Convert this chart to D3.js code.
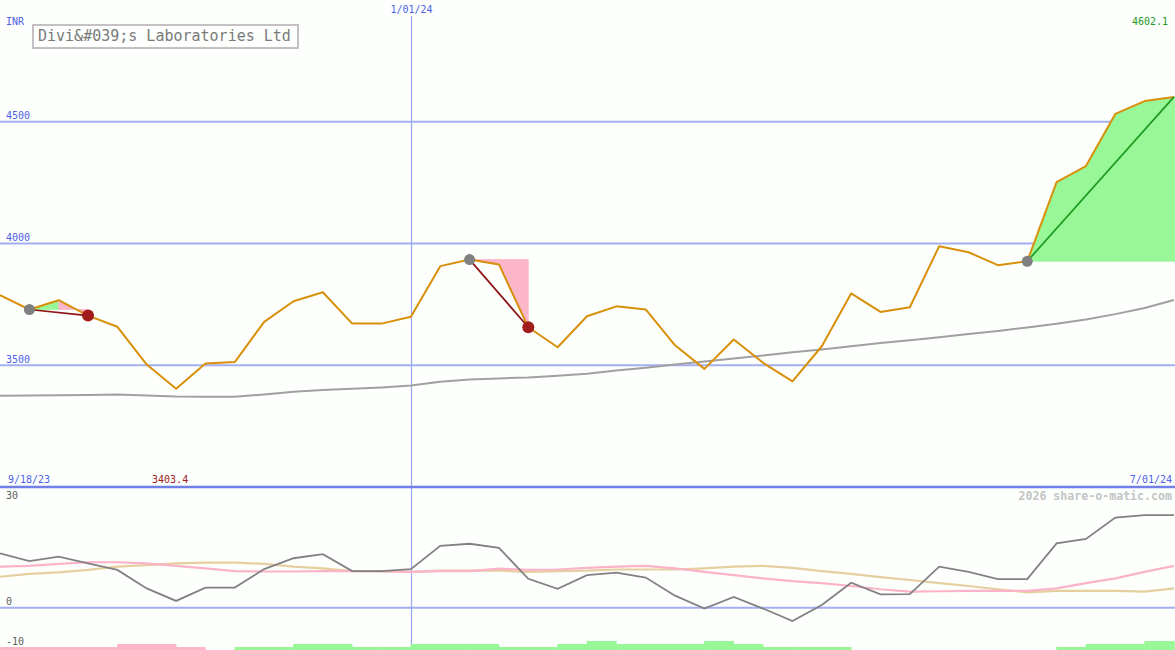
<!DOCTYPE html>
<html><head><meta charset="utf-8">
<script src="https://cdn.jsdelivr.net/npm/d3@7"></script>
<style>
body{margin:0;background:#fcfffc;}
svg{display:block;}
text{font-family:"DejaVu Sans Mono","Liberation Mono",monospace;}
</style>
</head><body>
<svg id="c" width="1175" height="650"></svg>
<script>
// ---------- data ----------
const dates = ["2023-09-25","2023-10-02","2023-10-09","2023-10-16","2023-10-23","2023-10-30","2023-11-06","2023-11-13","2023-11-20","2023-11-27",
  "2023-12-04","2023-12-11","2023-12-18","2023-12-25","2024-01-01","2024-01-08","2024-01-15","2024-01-22","2024-01-29","2024-02-05",
  "2024-02-12","2024-02-19","2024-02-26","2024-03-04","2024-03-11","2024-03-18","2024-03-25","2024-04-01","2024-04-08","2024-04-15",
  "2024-04-22","2024-04-29","2024-05-06","2024-05-13","2024-05-20","2024-05-27","2024-06-03","2024-06-10","2024-06-17","2024-06-24","2024-07-01"];
const closePrice = [3788,3729,3767,3704,3658,3503,3403.4,3507,3513,3678,
  3763,3800,3671,3671,3699,3907,3934,3914,3656,3574,
  3701,3742,3729,3582,3485,3606,3510,3434,3578,3795,
  3719,3738,3989,3964,3911,3927,4252,4318,4532,4585,4602.1];
const movingAvg = [3375,3376,3377,3378,3380,3376,3372,3371,3371,3380,
  3391,3398,3403,3409,3417,3432,3441,3446,3450,3457,
  3465,3478,3490,3503,3515,3528,3540,3553,3565,3578,
  3591,3603,3615,3628,3641,3655,3670,3688,3710,3735,3768];
const oscMain = [13.5,11.6,12.7,11.0,9.4,4.8,1.7,5.0,5.0,9.6,
  12.3,13.3,9.1,9.1,9.6,15.4,15.9,14.9,7.2,4.7,
  8.1,8.7,7.5,3.0,-0.2,2.7,-0.2,-3.3,0.7,6.2,
  3.3,3.4,10.2,8.9,7.1,7.1,16.0,17.1,22.4,23.0,23.0];
const oscPink = [10.2,10.4,10.9,11.3,11.3,11.0,10.4,9.8,9.1,9.0,
  9.0,9.1,9.1,9.1,8.9,9.1,9.1,9.7,9.4,9.5,
  9.9,10.2,10.4,9.8,8.9,8.1,7.3,6.6,6.1,5.4,
  4.6,4.0,4.1,4.2,4.2,4.2,4.8,6.1,7.3,8.9,10.4];
const oscTan = [7.7,8.4,8.8,9.4,10.2,10.6,11.0,11.2,11.2,10.9,
  10.2,9.8,9.1,9.0,8.9,9.2,9.2,9.2,8.9,9.1,
  9.2,9.5,9.5,9.5,9.8,10.2,10.4,9.9,9.1,8.4,
  7.6,6.9,6.1,5.4,4.6,3.8,4.2,4.2,4.2,4.0,4.8];
const histBars = [-1,-1,-1,-1,-2,-2,-1,0,1,1,
  2,2,1,1,2,2,2,1,1,2,
  3,2,2,2,3,2,1,1,1,0,
  0,0,0,0,0,0,1,2,2,3,3];
const priceTicks = [4500,4000,3500];
const oscTicks = [30,0,-10];
const signalStart = [1,16,35];
const signalEnd = [3,18,40];
const signalClosed = [true,true,false];
const titleText = "Divi&#039;s Laboratories Ltd";
const currencyText = "INR";
const markerDate = "2024-01-01";
const markerLabel = "1/01/24";
const startLabel = "9/18/23";
const endLabel = "7/01/24";
const maxLabel = "4602.1";
const minLabel = "3403.4";
const creditText = "2026 share-o-matic.com";

// ---------- setup ----------
const W = 1175, H = 650;
const svg = d3.select("#c");
const parse = d3.timeParse("%Y-%m-%d");
const dts = dates.map(parse);
const x = d3.scaleTime().domain([dts[0], dts[dts.length-1]]).range([0, 1174]);
const y = d3.scaleLinear().domain([3000, 5000]).range([487, 0]);
const yL = d3.scaleLinear().domain([-10.5, 30]).range([650, 487]);
const barH = d3.scaleLinear().domain([0, 3]).range([0, 9]);
const step = x(dts[1]) - x(dts[0]);

const gridCol = "#a4aef2", divCol = "#7080e8", blueText = "#4f5fe6";
const green = "#98f898", pink = "#fbb6c9";

svg.append("rect").attr("width", W).attr("height", H).attr("fill", "#fcfffc");

// grid lines
svg.selectAll("line.grid").data(priceTicks).join("line")
  .attr("x1", 0).attr("x2", W).attr("y1", d => y(d)).attr("y2", d => y(d))
  .attr("stroke", gridCol).attr("stroke-width", 2);
svg.append("line").attr("x1", 0).attr("x2", W).attr("y1", yL(0)).attr("y2", yL(0))
  .attr("stroke", gridCol).attr("stroke-width", 2);
// date marker
const mx = Math.round(x(parse(markerDate))) + 0.5;
svg.append("line").attr("x1", mx).attr("x2", mx).attr("y1", 16).attr("y2", H)
  .attr("stroke", "#9aa6f4").attr("stroke-width", 1.2);
// divider
svg.append("line").attr("x1", 0).attr("x2", W).attr("y1", 487).attr("y2", 487)
  .attr("stroke", divCol).attr("stroke-width", 2.5);

// moving average
svg.append("path").datum(movingAvg)
  .attr("d", d3.line().x((d,i) => x(dts[i])).y(d => y(d)))
  .attr("fill", "none").attr("stroke", "#a0a0a0").attr("stroke-width", 2);

// signal fills (one path per colour to avoid seams)
let greenD = "", pinkD = "";
signalStart.forEach((s, k) => {
  const e = signalEnd[k];
  const base = closePrice[s];
  for (let i = s; i < e; i++) {
    const pts = [[x(dts[i]), y(base)], [x(dts[i]), y(closePrice[i])],
                 [x(dts[i+1]), y(closePrice[i+1])], [x(dts[i+1]), y(base)]];
    if (i + 1 === dts.length - 1) { pts[2][0] = W; pts[3][0] = W; }
    const d = "M" + pts.join("L") + "Z";
    if (closePrice[i+1] >= base) greenD += d; else pinkD += d;
  }
});
svg.append("path").attr("d", greenD).attr("fill", green).attr("stroke", green).attr("stroke-width", 0.8).attr("fill-rule", "nonzero");
svg.append("path").attr("d", pinkD).attr("fill", pink).attr("stroke", pink).attr("stroke-width", 0.8).attr("fill-rule", "nonzero");

// price line
svg.append("path").datum(closePrice)
  .attr("d", d3.line().x((d,i) => x(dts[i])).y(d => y(d)))
  .attr("fill", "none").attr("stroke", "#d8900a").attr("stroke-width", 2)
  .attr("stroke-linejoin", "round");

// signal lines & dots
signalStart.forEach((s, k) => {
  const e = signalEnd[k];
  const up = closePrice[e] >= closePrice[s];
  svg.append("line")
    .attr("x1", x(dts[s])).attr("y1", y(closePrice[s]))
    .attr("x2", x(dts[e])).attr("y2", y(closePrice[e]))
    .attr("stroke", up ? "#1f9a1f" : "#8e1414").attr("stroke-width", 1.7);
  svg.append("circle").attr("cx", x(dts[s])).attr("cy", y(closePrice[s])).attr("r", 5.5)
    .attr("fill", "#808080");
  if (signalClosed[k]) {
    svg.append("circle").attr("cx", x(dts[e])).attr("cy", y(closePrice[e])).attr("r", 6)
      .attr("fill", "#a01c1c");
  }
});

// ---------- lower panel ----------
svg.selectAll("rect.bar").data(histBars).join("rect")
  .attr("x", (d,i) => x(dts[i]) - 0.3)
  .attr("width", (d,i) => Math.max(0, Math.min(step + 0.6, W - x(dts[i]))))
  .attr("y", d => H - barH(Math.abs(d)))
  .attr("height", d => barH(Math.abs(d)))
  .attr("fill", d => d < 0 ? pink : green);

const lineL = d3.line().x((d,i) => x(dts[i])).y(d => yL(d));
svg.append("path").datum(oscTan).attr("d", lineL)
  .attr("fill", "none").attr("stroke", "#e6cf9e").attr("stroke-width", 2.2);
svg.append("path").datum(oscPink).attr("d", lineL)
  .attr("fill", "none").attr("stroke", "#fbb3c8").attr("stroke-width", 2.2);
svg.append("path").datum(oscMain).attr("d", lineL)
  .attr("fill", "none").attr("stroke", "#838083").attr("stroke-width", 1.8);

// ---------- text ----------
const fs = 10;
svg.selectAll("text.pt").data(priceTicks).join("text")
  .attr("x", 6).attr("y", d => y(d) - 2.5).attr("font-size", fs).attr("fill", blueText).text(d => d);
svg.selectAll("text.ot").data(oscTicks).join("text")
  .attr("x", 6).attr("y", d => Math.max(yL(d) - 2.5, 499)).attr("font-size", fs).attr("fill", "#606060").text(d => d);
svg.append("text").attr("x", 6).attr("y", 25).attr("font-size", fs).attr("fill", blueText).text(currencyText);
svg.append("text").attr("x", mx).attr("y", 13).attr("text-anchor", "middle").attr("font-size", fs).attr("fill", blueText).text(markerLabel);
svg.append("text").attr("x", 1168).attr("y", 25).attr("text-anchor", "end").attr("font-size", fs).attr("fill", "#1f9a1f").text(maxLabel);
svg.append("text").attr("x", 8).attr("y", 483).attr("font-size", fs).attr("fill", blueText).text(startLabel);
svg.append("text").attr("x", 1172).attr("y", 483).attr("text-anchor", "end").attr("font-size", fs).attr("fill", blueText).text(endLabel);
const minIdx = closePrice.indexOf(d3.min(closePrice));
svg.append("text").attr("x", x(dts[minIdx]) - 6).attr("y", 483).attr("text-anchor", "middle").attr("font-size", fs).attr("fill", "#a01c1c").text(minLabel);
svg.append("text").attr("x", 1172).attr("y", 500).attr("text-anchor", "end").attr("font-size", 11.6)
  .attr("font-weight", "bold").attr("fill", "#c4c4c4").text(creditText);

// title box
svg.append("rect").attr("x", 33).attr("y", 25).attr("width", 265).attr("height", 23)
  .attr("fill", "#fcfffc").attr("stroke", "#c4c0c4").attr("stroke-width", 2);
svg.append("text").attr("x", 38).attr("y", 41).attr("font-size", 15).attr("fill", "#7a7a7a").text(titleText);
</script>
</body></html>
